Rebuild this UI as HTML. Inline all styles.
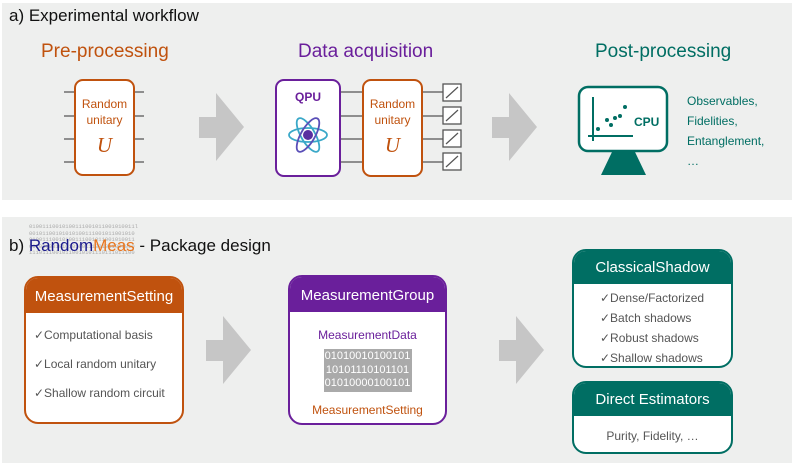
<!DOCTYPE html>
<html><head><meta charset="utf-8"><style>
body{margin:0;width:797px;height:467px;background:#fff;font-family:"Liberation Sans",sans-serif;overflow:hidden;position:relative}
.a{position:absolute;white-space:nowrap}
.box{position:absolute;box-sizing:border-box;border-radius:14px;overflow:hidden;background:#fff}
.hd{color:#fff;text-align:center;font-size:15px}
</style></head><body>
<div class="a" style="left:2px;top:3px;width:790px;height:197px;background:#eeefee"></div>
<div class="a" style="left:2px;top:217px;width:790px;height:246px;background:#eeefee"></div>
<div class="a" style="left:9px;top:6px;font-size:17px;color:#111">a) Experimental workflow</div>
<div class="a" style="left:41px;top:41px;font-size:19px;color:#c0520e">Pre-processing</div>
<div class="a" style="left:298px;top:41px;font-size:19px;color:#6a1f9b">Data acquisition</div>
<div class="a" style="left:595px;top:41px;font-size:19px;color:#006e63">Post-processing</div>
<svg class="a" style="left:0;top:0" width="797" height="467">
<g stroke="#555" stroke-width="1.3">
<line x1="64" y1="92" x2="144" y2="92"/><line x1="64" y1="116" x2="144" y2="116"/><line x1="64" y1="139" x2="144" y2="139"/><line x1="64" y1="162" x2="144" y2="162"/>
<line x1="340" y1="92" x2="443" y2="92"/><line x1="340" y1="116" x2="443" y2="116"/><line x1="340" y1="139" x2="443" y2="139"/><line x1="340" y1="162" x2="443" y2="162"/>
</g>
<rect x="75" y="80" width="59" height="95" rx="8" fill="#fff" stroke="#c0520e" stroke-width="2"/>
<rect x="276" y="80" width="64" height="96" rx="8" fill="#fff" stroke="#6a1f9b" stroke-width="2"/>
<rect x="363" y="80" width="59" height="96" rx="8" fill="#fff" stroke="#c0520e" stroke-width="2"/>
<g fill="#fff" stroke="#555" stroke-width="1.3">
<rect x="443" y="84" width="18" height="17"/><rect x="443" y="107" width="18" height="17"/><rect x="443" y="130" width="18" height="17"/><rect x="443" y="153" width="18" height="17"/>
</g>
<g stroke="#555" stroke-width="1.2">
<line x1="446" y1="98" x2="458" y2="87"/><line x1="446" y1="121" x2="458" y2="110"/><line x1="446" y1="144" x2="458" y2="133"/><line x1="446" y1="167" x2="458" y2="156"/>
</g>
<g fill="none" stroke="#3aa8c8" stroke-width="1.8">
<ellipse cx="308" cy="135" rx="19" ry="7"/>
<ellipse cx="308" cy="135" rx="19" ry="7" transform="rotate(60 308 135)"/>
<ellipse cx="308" cy="135" rx="19" ry="7" transform="rotate(-60 308 135)" stroke="#5a4fb8"/>
</g>
<circle cx="308" cy="135" r="5" fill="#5a2fa0"/>
<g fill="#c6c6c6">
<polygon points="199,117 216,117 216,93 244,127 216,161 216,138 199,138"/>
<polygon points="492,117 509,117 509,93 537,127 509,161 509,138 492,138"/>
<polygon points="206,340 223,340 223,316 251,350 223,384 223,361 206,361"/>
<polygon points="499,340 516,340 516,316 544,350 516,384 516,361 499,361"/>
</g>
<rect x="579" y="87" width="88" height="64" rx="9" fill="#fff" stroke="#006e63" stroke-width="2.5"/>
<polygon points="612,152 635,152 646,175 601,175" fill="#006e63"/>
<g stroke="#006e63" stroke-width="2"><line x1="593" y1="97" x2="593" y2="141"/><line x1="588" y1="136" x2="633" y2="136"/></g>
<g fill="#006e63"><circle cx="598" cy="129" r="2"/><circle cx="607" cy="120" r="2"/><circle cx="611" cy="125" r="2"/><circle cx="615" cy="118" r="2"/><circle cx="620" cy="116" r="2"/><circle cx="625" cy="107" r="2"/></g>
<text x="634" y="126" font-family="Liberation Sans" font-weight="bold" font-size="12" fill="#006e63">CPU</text>
</svg>
<div class="a" style="left:75px;top:96px;width:59px;text-align:center;font-size:12px;color:#c0520e;line-height:16px">Random<br>unitary</div>
<div class="a" style="left:75px;top:133px;width:59px;text-align:center;font-size:21px;font-style:italic;font-family:'Liberation Serif',serif;color:#c0520e">U</div>
<div class="a" style="left:363px;top:96px;width:59px;text-align:center;font-size:12px;color:#c0520e;line-height:16px">Random<br>unitary</div>
<div class="a" style="left:363px;top:133px;width:59px;text-align:center;font-size:21px;font-style:italic;font-family:'Liberation Serif',serif;color:#c0520e">U</div>
<div class="a" style="left:276px;top:90px;width:64px;text-align:center;font-size:12px;font-weight:bold;color:#6a1f9b">QPU</div>
<div class="a" style="left:687px;top:91px;font-size:12px;color:#006e63;line-height:20px">Observables,<br>Fidelities,<br>Entanglement,<br>…</div>

<div class="a" style="left:29px;top:224px;font-size:5.5px;line-height:6.5px;color:#aaa;font-family:'Liberation Mono',monospace">01001110010100111001011001010011l<br>00101100101010100111001011001010<br>01001110010100111001011001010011<br>00101100101010100111001011001010<br>11101110010110010101110111011100</div>
<div class="a" style="left:9px;top:236px;font-size:17px;color:#111"><span>b) </span><span style="color:#1a1a8c">Random</span><span style="color:#e8741c">Meas</span> - Package design</div>

<div class="box" style="left:24px;top:276px;width:160px;height:148px;border:2px solid #c0520e">
<div class="hd" style="background:#c0520e;height:35px;line-height:37px">MeasurementSetting</div>
<div style="font-size:12px;color:#555;padding-left:8px;line-height:29px;padding-top:8px">✓Computational basis<br>✓Local random unitary<br>✓Shallow random circuit</div></div>

<div class="box" style="left:288px;top:275px;width:159px;height:150px;border:2px solid #6a1f9b">
<div class="hd" style="background:#6a1f9b;height:35px;line-height:37px">MeasurementGroup</div>
<div style="text-align:center;font-size:12px;color:#6a1f9b;margin-top:16px">MeasurementData</div>
<div style="margin:7px auto 0;width:88px;height:43px;background:#aaa;color:#fff;font-size:11px;line-height:13.5px;text-align:center;padding-top:1px;box-sizing:border-box">01010010100101<br>10101110101101<br>01010000100101</div>
<div style="text-align:center;font-size:12px;color:#c0520e;margin-top:11px">MeasurementSetting</div></div>

<div class="box" style="left:572px;top:249px;width:161px;height:119px;border:2px solid #006e63">
<div class="hd" style="background:#006e63;height:33px;line-height:33px">ClassicalShadow</div>
<div style="font-size:12px;color:#555;padding-left:26px;line-height:20px;padding-top:4px">✓Dense/Factorized<br>✓Batch shadows<br>✓Robust shadows<br>✓Shallow shadows</div></div>

<div class="box" style="left:572px;top:381px;width:161px;height:73px;border:2px solid #006e63">
<div class="hd" style="background:#006e63;height:33px;line-height:33px">Direct Estimators</div>
<div style="font-size:12px;color:#555;text-align:center;margin-top:13px">Purity, Fidelity, …</div></div>
</body></html>
